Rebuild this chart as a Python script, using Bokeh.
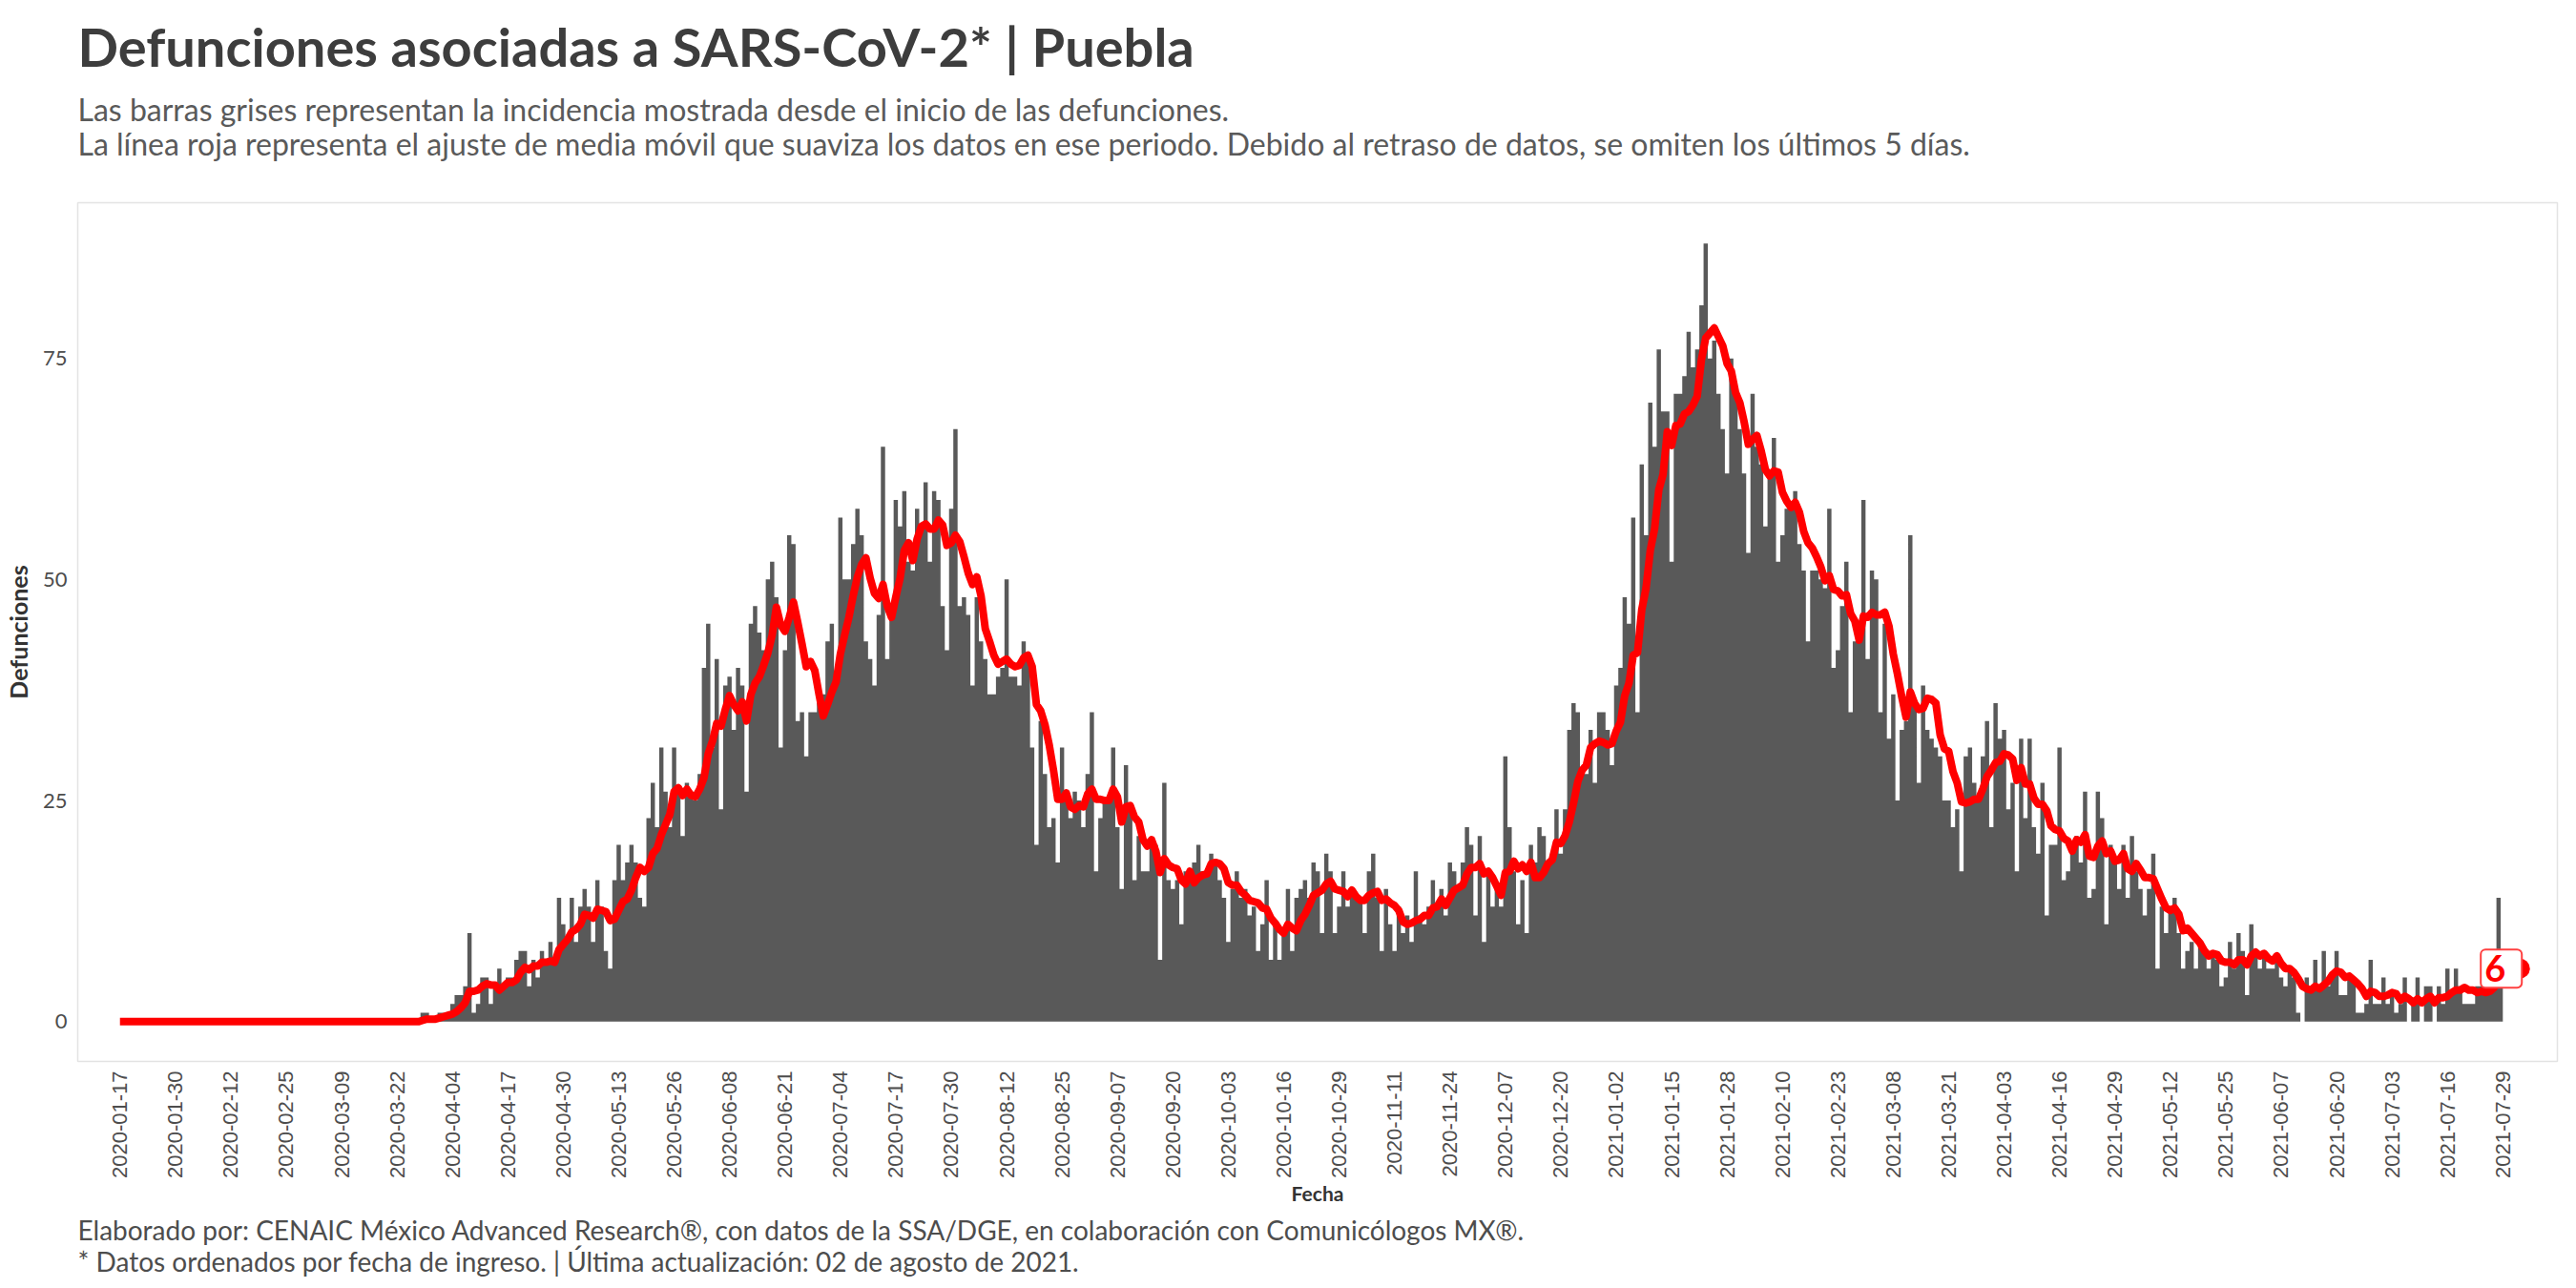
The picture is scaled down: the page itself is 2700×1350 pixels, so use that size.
import math
import pandas as pd
from bokeh.plotting import figure
from bokeh.models import (Range1d, FixedTicker, DatetimeTickFormatter, Label, Title,
                          ColumnDataSource)
from bokeh.embed import file_html
from bokeh.resources import INLINE

# ---- datos ----
fecha_inicio = "2020-01-17"          # inicio del eje / de la serie
primera_defuncion = "2020-03-28"     # primer día con barras

defunciones_ola1 = [
    1, 1, 0, 0, 1, 1, 1, 2, 3, 3, 4, 10, 1, 2, 5, 5, 2, 4, 6, 4,
    5, 5, 7, 8, 8, 4, 7, 5, 8, 7, 9, 7, 14, 11, 9, 14, 9, 13, 15, 13,
    9, 16, 13, 8, 6, 16, 20, 16, 18, 20, 18, 14, 13, 23, 27, 22, 31, 26, 22, 31,
    26, 21, 27, 26, 25, 28, 40, 45, 31, 41, 24, 38, 39, 33, 40, 38, 26, 45, 47, 44,
    42, 50, 52, 48, 31, 42,
    55, 54, 34, 35, 30, 35, 35, 36, 37, 43, 45, 38, 57, 50, 50, 54, 58, 55, 43, 41,
    38, 46, 65, 41, 46, 59, 56, 60, 52, 51, 58, 56, 61, 52, 60, 59, 47, 42, 58, 67,
    47, 48, 46, 38, 48, 43, 41, 37, 37, 39, 40, 50, 39, 39, 38, 43, 41, 31, 20, 34,
    28, 22, 23, 18, 31, 25, 23, 26, 25, 22, 28, 35, 17, 23, 25, 25, 31, 22, 15, 29,
    24, 16, 21, 17, 17, 20, 20, 7, 27, 16, 15,
]

defunciones_valle = [
    16, 11, 17, 17, 18, 20, 17, 17, 19, 18, 16, 14, 9, 15, 17, 14, 15, 12, 13, 8,
    11, 16, 7, 11, 7, 10, 15, 8, 14, 15, 16, 14, 18, 17, 10, 19, 17, 10, 13, 17,
    13, 15, 14, 14, 10, 17, 19, 14, 8, 15, 11, 8, 13, 10, 12, 9, 17, 12, 11, 13,
    16, 13, 15, 12, 18, 17, 15, 18, 22, 20, 12, 21, 9, 17, 13, 15, 13, 30, 22, 17,
    11, 16, 10, 20, 18, 22, 21, 18, 19, 24, 19, 24, 33, 36,
]

defunciones_ola2 = [
    35, 28, 28, 33, 27, 35, 35, 33, 29, 38, 40, 48, 45, 57, 35, 63, 55, 70, 65, 76,
    69, 69, 52, 71, 71, 73, 78, 74, 76, 81, 88, 75, 77, 71, 67, 62, 75, 71, 67, 62,
    53, 71, 65, 63, 56, 62, 66, 52, 55, 58, 58, 60, 54, 51, 43, 51, 51, 50, 49, 58,
    40, 42, 47, 52, 35, 43, 43, 59, 41, 51, 50, 35, 45, 32, 37, 25, 33, 34, 55, 36,
    27, 38, 33, 32, 31, 30, 25, 25, 22, 24, 17,
]

defunciones_descenso = [
    30, 31, 27, 25, 30, 34, 22, 36, 32, 33, 24, 27, 17, 32, 23, 32, 22, 19, 27, 12,
    20, 20, 31, 16, 17, 19, 21, 18, 26, 14, 15, 26, 23, 11, 20, 18, 15, 20, 14, 21,
    17, 15, 12, 15, 19, 6, 13, 10, 13, 14, 10, 6, 8, 9, 6, 9, 8, 6, 8, 7,
    4, 5, 9, 6, 10, 8, 3, 11, 8, 6, 8, 6, 6, 7, 5, 4, 6, 5, 1, 0,
    5, 4, 7, 4, 8, 4, 5, 8, 3, 3, 5, 5,
    1, 1, 2, 7, 2, 2, 5, 2, 3, 1, 2, 5, 0, 2, 5, 0, 4, 4, 0, 4,
    2, 6, 3, 6, 4, 2, 2, 2, 4, 4, 5, 5, 5, 14, 6,
]

ticks_fechas = [
    "2020-01-17", "2020-01-30", "2020-02-12", "2020-02-25", "2020-03-09", "2020-03-22",
    "2020-04-04", "2020-04-17", "2020-04-30", "2020-05-13", "2020-05-26", "2020-06-08",
    "2020-06-21", "2020-07-04", "2020-07-17", "2020-07-30", "2020-08-12", "2020-08-25",
    "2020-09-07", "2020-09-20", "2020-10-03", "2020-10-16", "2020-10-29", "2020-11-11",
    "2020-11-24", "2020-12-07", "2020-12-20", "2021-01-02", "2021-01-15", "2021-01-28",
    "2021-02-10", "2021-02-23", "2021-03-08", "2021-03-21", "2021-04-03", "2021-04-16",
    "2021-04-29", "2021-05-12", "2021-05-25", "2021-06-07", "2021-06-20", "2021-07-03",
    "2021-07-16", "2021-07-29",
]
ticks_y = [0, 25, 50, 75]

etiqueta_fecha = "2021-08-02"
etiqueta_valor = 6

titulo = "Defunciones asociadas a SARS-CoV-2* | Puebla"
subtitulo = [
    "Las barras grises representan la incidencia mostrada desde el inicio de las defunciones.",
    "La línea roja representa el ajuste de media móvil que suaviza los datos en ese periodo. Debido al retraso de datos, se omiten los últimos 5 días.",
]
pie = [
    "Elaborado por: CENAIC México Advanced Research®, con datos de la SSA/DGE, en colaboración con Comunicólogos MX®.",
    "* Datos ordenados por fecha de ingreso. | Última actualización: 02 de agosto de 2021.",
]

# ---- serie diaria + media móvil ----
barras = defunciones_ola1 + defunciones_valle + defunciones_ola2 + defunciones_descenso
fechas_barras = pd.date_range(primera_defuncion, periods=len(barras), freq="D")
serie = pd.Series(barras, index=fechas_barras)
serie = serie.reindex(pd.date_range(fecha_inicio, fechas_barras[-1], freq="D"), fill_value=0)
media_movil = serie.rolling(7, min_periods=1).mean()

linea_x = list(media_movil.index) + [pd.Timestamp(etiqueta_fecha)]
linea_y = list(media_movil.values) + [etiqueta_valor]

src = ColumnDataSource(dict(fecha=serie.index, defunciones=serie.values,
                            base=[0] * len(serie)))

DAY = 86400000
t0 = pd.Timestamp(fecha_inicio)

p = figure(width=2684, height=1342, x_axis_type="datetime",
           output_backend="svg", toolbar_location=None,
           x_range=Range1d(t0 - pd.Timedelta(days=9.9), t0 + pd.Timedelta(days=571.8)),
           y_range=Range1d(-4.5, 92.6),
           min_border_left=68, min_border_right=4,
           min_border_top=212, min_border_bottom=230)

# barras contiguas sin costuras: área escalonada centrada en cada día
if hasattr(p, "varea_step"):
    p.varea_step(x="fecha", y1="base", y2="defunciones", step_mode="center",
                 source=src, fill_color="#595959")
else:
    p.vbar(x="fecha", top="defunciones", width=1.1 * DAY, source=src,
           fill_color="#595959", line_color=None)
p.line(linea_x, linea_y, line_color="#ff0000", line_width=8, line_join="round")
p.scatter([pd.Timestamp(etiqueta_fecha)], [etiqueta_valor], size=21,
          fill_color="#ff0000", line_color=None)

p.add_layout(Label(x=pd.Timestamp(etiqueta_fecha), y=etiqueta_valor,
                   text=str(etiqueta_valor), x_offset=-41,
                   text_align="left", text_baseline="middle",
                   text_font="Lato", text_font_style="bold", text_font_size="38px",
                   text_color="#ff0000",
                   background_fill_color="white",
                   border_line_color="#ff4040", border_line_width=2,
                   border_radius=5, padding=(4, 17, 6, 6)))

# ---- ejes ----
p.xgrid.visible = False
p.ygrid.visible = False
p.outline_line_color = "#e3e3e3"
p.outline_line_width = 1.5

p.xaxis.ticker = FixedTicker(ticks=[pd.Timestamp(t).value // 10**6 for t in ticks_fechas])
fmt = "%Y-%m-%d"
p.xaxis.formatter = DatetimeTickFormatter(days=fmt, months=fmt, years=fmt, hours=fmt,
                                          hourmin=fmt, minutes=fmt, seconds=fmt)
p.xaxis.major_label_orientation = math.pi / 2
p.xaxis.major_label_text_font = "Liberation Sans"
p.xaxis.major_label_text_font_size = "22px"
p.xaxis.major_label_text_color = "#4d4d4d"
p.xaxis.major_label_standoff = 10
p.xaxis.axis_label = "Fecha"
p.xaxis.axis_label_standoff = 0
p.xaxis.axis_label_text_font_size = "21px"

p.yaxis.ticker = FixedTicker(ticks=ticks_y)
p.yaxis.major_label_text_font = "Lato"
p.yaxis.major_label_text_font_size = "22px"
p.yaxis.major_label_text_color = "#4d4d4d"
p.yaxis.major_label_standoff = 11
p.yaxis.axis_label = "Defunciones"
p.yaxis.axis_label_standoff = 8
p.yaxis.axis_label_text_font_size = "25px"

for ax in (p.xaxis, p.yaxis):
    ax.axis_line_color = None
    ax.major_tick_line_color = None
    ax.minor_tick_line_color = None
    ax.major_tick_out = 0
    ax.major_tick_in = 0
    ax.axis_label_text_font = "Lato"
    ax.axis_label_text_font_style = "bold"
    ax.axis_label_text_color = "#333333"

# ---- textos ----
def titulo_capa(t, size, color, side, standoff, style="normal", line_height=1.2):
    p.add_layout(Title(text=t, align="left", vertical_align="bottom",
                       text_font="Lato", text_font_style=style,
                       text_font_size=size, text_color=color,
                       text_line_height=line_height, standoff=standoff), side)

titulo_capa("\n".join(subtitulo), "32px", "#5a5a5a", "above", 84.6, line_height=0.94)
titulo_capa(titulo, "56px", "#3d3d3d", "above", -63.6, style="bold")

titulo_capa(pie[0], "28px", "#4d4d4d", "below", 7.2)
titulo_capa(pie[1], "28px", "#4d4d4d", "below", -14.4)

p.background_fill_color = "white"
p.border_fill_color = "white"

open("out.html", "w").write(file_html(p, INLINE))
